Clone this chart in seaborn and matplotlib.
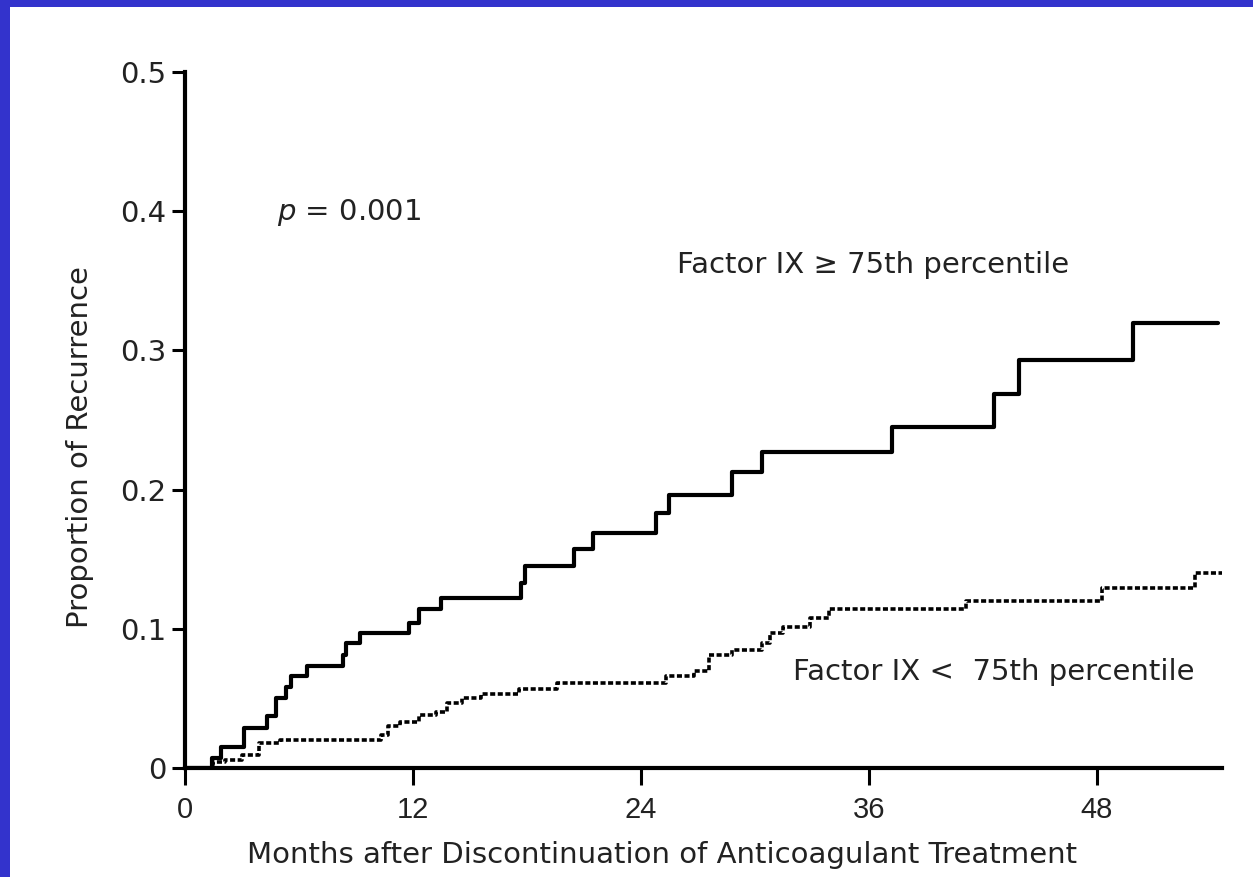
import matplotlib
matplotlib.use("Agg")
import matplotlib.pyplot as plt
from matplotlib.patches import Rectangle
import seaborn as sns
import pandas as pd

# Factor IX >= 75th percentile (solid)
high_months = [0, 1.4, 1.9, 3.1, 4.3, 4.8, 5.3, 5.6, 6.4, 8.3, 8.5, 9.2, 11.8, 12.3,
               13.5, 17.7, 17.9, 20.5, 21.5, 24.8, 25.5, 28.8, 30.4, 37.2, 42.6,
               43.9, 49.9, 54.4]
high_prop = [0, 0.007, 0.015, 0.029, 0.037, 0.050, 0.058, 0.066, 0.073, 0.081, 0.090,
             0.097, 0.104, 0.114, 0.122, 0.133, 0.145, 0.157, 0.169, 0.183, 0.196,
             0.213, 0.227, 0.245, 0.269, 0.293, 0.320, 0.320]

# Factor IX < 75th percentile (dotted)
low_months = [0, 1.5, 2.1, 3.0, 3.9, 5.0, 10.3, 10.7, 11.3, 12.3, 13.2, 13.8, 14.6,
              15.6, 17.6, 19.6, 25.3, 26.8, 27.6, 28.8, 30.4, 30.8, 31.5, 32.9, 33.9,
              41.1, 48.3, 53.2, 54.6]
low_prop = [0, 0.004, 0.006, 0.009, 0.018, 0.020, 0.024, 0.030, 0.033, 0.038, 0.040,
            0.047, 0.050, 0.053, 0.057, 0.061, 0.066, 0.070, 0.081, 0.085, 0.090,
            0.097, 0.101, 0.108, 0.114, 0.120, 0.129, 0.140, 0.140]

x_ticks = [0, 12, 24, 36, 48]
y_ticks = [0, 0.1, 0.2, 0.3, 0.4, 0.5]
y_tick_labels = ["0", "0.1", "0.2", "0.3", "0.4", "0.5"]

sns.set_style("white")
plt.rcParams['font.family'] = ['DejaVu Sans']

fig = plt.figure(figsize=(12.53, 8.77), dpi=100)
fig.patch.set_facecolor("white")
ax = fig.add_axes([185 / 1253, 1 - 768 / 877, (1222 - 185) / 1253, 696 / 877])

df_high = pd.DataFrame({"month": high_months, "prop": high_prop})
df_low = pd.DataFrame({"month": low_months, "prop": low_prop})

sns.lineplot(data=df_high, x="month", y="prop", ax=ax, color="black", linewidth=3.0,
             drawstyle="steps-post", estimator=None, sort=False)
sns.lineplot(data=df_low, x="month", y="prop", ax=ax, color="black", linewidth=2.6,
             drawstyle="steps-post", estimator=None, sort=False,
             linestyle=(0, (1.4, 0.7)))

ax.set_xlim(0, 54.6)
ax.set_ylim(0, 0.5)
ax.set_xticks(x_ticks)
ax.set_yticks(y_ticks)
ax.set_yticklabels(y_tick_labels)
ax.tick_params(axis="both", direction="out", width=2.2, color="black",
               labelcolor="#222222", bottom=True, left=True)
ax.tick_params(axis="x", length=12, pad=8, labelsize=21)
ax.tick_params(axis="y", length=9.5, pad=4, labelsize=21)
for lab in ax.get_xticklabels():
    lab.set_fontfamily(["Liberation Sans", "DejaVu Sans"])
for side in ["top", "right"]:
    ax.spines[side].set_visible(False)
for side in ["left", "bottom"]:
    ax.spines[side].set_linewidth(3.0)
    ax.spines[side].set_color("black")

ax.set_xlabel("Months after Discontinuation of Anticoagulant Treatment", fontsize=21,
              color="#222222")
ax.set_ylabel("Proportion of Recurrence", fontsize=21, color="#222222")
ax.xaxis.set_label_coords((662 - 185) / 1037, -(855 - 768) / 696)
ax.yaxis.set_label_coords(-(185 - 80) / 1037, (768 - 447) / 696)
ax.xaxis.label.set_va("center")
ax.yaxis.label.set_va("center")

ax.text(4.85, 0.399, "$p$ = 0.001", fontsize=21, color="#222222", va="center", ha="left")
ax.text(25.9, 0.361, "Factor IX \u2265 75th percentile", fontsize=21, color="#222222",
        va="center", ha="left")
ax.text(32.0, 0.069, "Factor IX <  75th percentile", fontsize=21, color="#222222",
        va="center", ha="left")

border = "#3333CC"
fig.patches.append(Rectangle((0, 1 - 7 / 877), 1, 7 / 877, transform=fig.transFigure,
                             facecolor=border, edgecolor="none", zorder=10))
fig.patches.append(Rectangle((0, 0), 10 / 1253, 1, transform=fig.transFigure,
                             facecolor=border, edgecolor="none", zorder=10))

fig.savefig("out.png", dpi=100, facecolor="white")
